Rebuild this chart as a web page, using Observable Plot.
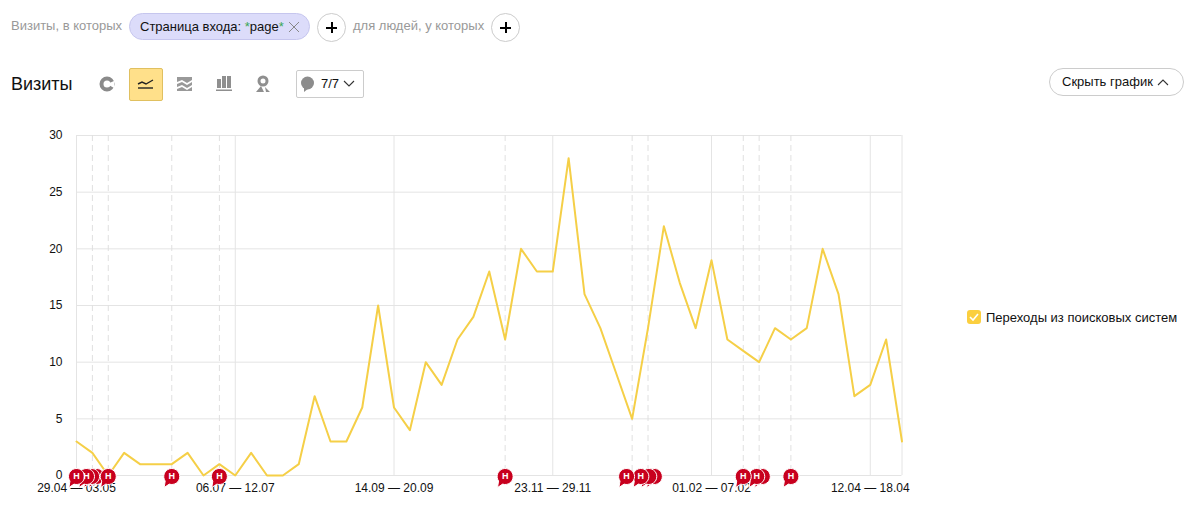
<!DOCTYPE html>
<html lang="ru"><head><meta charset="utf-8">
<script src="https://cdn.jsdelivr.net/npm/d3@7"></script>
<script src="https://cdn.jsdelivr.net/npm/@observablehq/plot@0.6"></script>
<style>
html,body{margin:0;padding:0;background:#fff;overflow:hidden}
body{width:1193px;height:526px;position:relative;font-family:"Liberation Sans",Arial,sans-serif;color:#111}
.a{position:absolute;white-space:nowrap;line-height:1}
.plus{position:absolute;width:27px;height:27px;border:1px solid #ccc;border-radius:50%;top:13px;background:#fff}
.plus:before,.plus:after{content:"";position:absolute;background:#000}
.plus:before{left:8px;top:13px;width:11px;height:2px}
.plus:after{left:13px;top:8px;width:2px;height:11px}
#chart{position:absolute;left:0;top:110px}
</style></head><body>
<div class="a" style="left:11px;top:19px;font-size:13px;color:#999">Визиты, в которых</div>
<div class="a" style="left:129px;top:13px;width:179px;height:25px;border:1px solid #c6c6ee;background:#dcdcfa;border-radius:14px"></div>
<div class="a" style="left:140px;top:20px;font-size:13px">Страница входа: <span style="color:#3aa655">*</span>page<span style="color:#3aa655">*</span></div>
<svg class="a" style="left:288px;top:21px" width="12" height="12"><path d="M1 1L11 11M11 1L1 11" stroke="#888" fill="none"/></svg>
<div class="plus" style="left:317px"></div>
<div class="a" style="left:353px;top:19px;font-size:13px;color:#999">для людей, у которых</div>
<div class="plus" style="left:491px"></div>
<div class="a" style="left:11px;top:75px;font-size:18px">Визиты</div>
<svg class="a" style="left:98px;top:74px" width="18" height="20"><circle cx="9" cy="10" r="5.500" fill="none" stroke="#8a8a8a" stroke-width="4"/><path d="M9 10L16 7L16 14Z" fill="#fff"/></svg>
<div class="a" style="left:129px;top:68px;width:32px;height:31px;background:#ffe08a;border:1px solid #e0c060;border-radius:2px"></div>
<svg class="a" style="left:137px;top:76px" width="18" height="16"><path d="M1 8L5 6L9 8L16 4" fill="none" stroke="#222" stroke-width="1.400"/><path d="M1 12H16" stroke="#222" stroke-width="1.400"/></svg>
<svg class="a" style="left:176px;top:75px" width="18" height="18"><path d="M1 2H16V5L11 8L6 5L1 7ZM1 9L6 7L11 10L16 7V10L11 13L6 10L1 12ZM1 14L6 12L11 15L16 12V16H1Z" fill="#999"/></svg>
<svg class="a" style="left:215px;top:74px" width="18" height="20"><path d="M2 5H6V14H2ZM7 2H11V14H7ZM12 2H16V14H12ZM1 15.500H17V17H1Z" fill="#8f8f8f"/></svg>
<svg class="a" style="left:254px;top:74px" width="18" height="20"><circle cx="9" cy="7" r="4" fill="none" stroke="#8f8f8f" stroke-width="3"/><path d="M2 18L7 12L10 18ZM11 13L16 18H12Z" fill="#8f8f8f"/></svg>
<div class="a" style="left:296px;top:70px;width:66px;height:26px;border:1px solid #ccc;border-radius:2px"></div>
<svg class="a" style="left:300px;top:75px" width="16" height="18"><ellipse cx="7.500" cy="8" rx="6.500" ry="6.500" fill="#8c8c8c"/><path d="M4 12L4 17L9 13Z" fill="#8c8c8c"/></svg>
<div class="a" style="left:321px;top:77px;font-size:13px">7/7</div>
<svg class="a" style="left:343px;top:80px" width="12" height="8"><path d="M1 1L6 6L11 1" fill="none" stroke="#333" stroke-width="1.100"/></svg>
<div class="a" style="left:1049px;top:68px;width:133px;height:26px;border:1px solid #ccc;border-radius:14px"></div>
<div class="a" style="left:1062px;top:75px;font-size:13px">Скрыть график</div>
<svg class="a" style="left:1157px;top:78px" width="12" height="8"><path d="M1 7L6 2L11 7" fill="none" stroke="#333" stroke-width="1.100"/></svg>
<div class="a" style="left:967px;top:310px;width:14px;height:14px;background:#fbcf3f;border-radius:3px"></div>
<svg class="a" style="left:967px;top:310px" width="14" height="14"><path d="M3 7L6 10L11 4" fill="none" stroke="#fff" stroke-width="1.600"/></svg>
<div class="a" style="left:986px;top:311px;font-size:13px">Переходы из поисковых систем</div>
<div id="chart"></div>
<script>
const visits = [3,2,0,2,1,1,1,2,0,1,0,2,0,0,1,7,3,3,6,15,6,4,10,8,12,14,18,12,20,18,18,28,16,13,9,5,13,22,17,13,19,12,11,10,13,12,13,20,16,7,8,12,3];
const tickWeeks = [0,10,20,30,40,50];
const tickLabels = ["29.04 — 03.05","06.07 — 12.07","14.09 — 20.09","23.11 — 29.11","01.02 — 07.02","12.04 — 18.04"];
const solidWeeks = [0,10,20,30,40,50,52];
const noteWeeks = [1,2,6,9,27,35,36,42,43,45];
const markerWeeks = [1.26,0.95,0.63,0,2,6,9,27,36.4,36.05,35.55,34.65,43.2,42.85,42,45];
const markerLetters = [0.63,0,2,6,9,27,35.55,34.65,42.85,42,45];
const yTicks = [0,5,10,15,20,25,30];
const rows = visits.map((v,i)=>({week:i,v}));
const plot = Plot.plot({
  width:960,height:400,marginTop:25,marginBottom:35,marginLeft:76,marginRight:58.5,
  style:{fontFamily:'"Liberation Sans",Arial,sans-serif',fontSize:"12px",color:"#111",background:"transparent",overflow:"visible"},
  x:{domain:[0,52],type:"linear"},
  y:{domain:[0,30]},
  marks:[
    Plot.ruleY(yTicks,{stroke:"#e4e4e4",strokeOpacity:1}),
    Plot.ruleX(solidWeeks,{stroke:"#e4e4e4",strokeOpacity:1}),
    Plot.ruleX(noteWeeks,{stroke:"#e0e0e0",strokeDasharray:"6,4",strokeOpacity:1}),
    Plot.axisY({ticks:yTicks,label:null,tickSize:0,tickPadding:14,fontSize:12}),
    Plot.axisX({ticks:tickWeeks,tickFormat:(d)=>tickLabels[tickWeeks.indexOf(d)],label:null,tickSize:0,tickPadding:8,fontSize:12}),
    Plot.line(rows,{x:"week",y:"v",stroke:"#f5cf47",strokeWidth:2,curve:"linear"}),
    Plot.dot(markerWeeks,{x:d=>d,y:()=>0,dy:1,r:8,symbol:{draw(c,size){
      const r=Math.sqrt(size/Math.PI);
      c.moveTo(r,0);c.arc(0,0,r,0,Math.PI*0.6);c.lineTo(-r*0.95,r*1.38);c.lineTo(-r*0.82,r*0.57);c.arc(0,0,r,Math.PI*0.81,Math.PI*2);c.closePath();
    }},fill:"#c8001e",stroke:"#fff",strokeWidth:1}),
    Plot.text(markerLetters,{x:d=>d,y:()=>0,dy:1,text:()=>"Н",fill:"#fff",fontSize:9,fontWeight:"bold"})
  ]
});
document.getElementById("chart").appendChild(plot);
</script>
</body></html>
